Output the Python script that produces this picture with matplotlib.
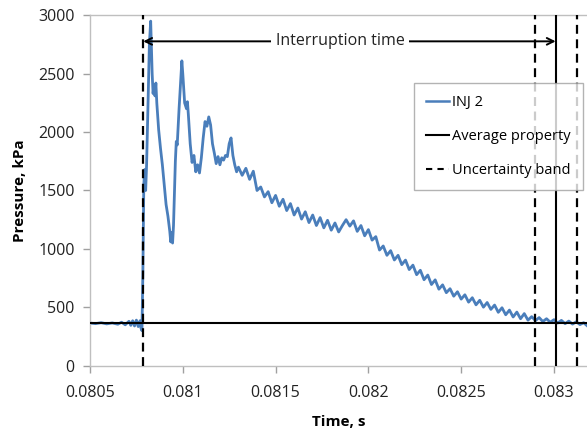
import matplotlib
matplotlib.use('Agg')
import matplotlib.pyplot as plt
from matplotlib.lines import Line2D

# pressure trace INJ 2 (time in s, pressure in kPa)
time_s = [
    0.08050, 0.08053, 0.08056, 0.08059, 0.08062, 0.08065, 0.08067, 0.08069,
    0.08071, 0.08072, 0.08073, 0.08074, 0.08075, 0.08076, 0.08077, 0.080775,
    0.08078, 0.080785, 0.08079, 0.080795, 0.08080, 0.080805, 0.08081, 0.080815,
    0.08082, 0.080827, 0.08083, 0.080835, 0.08084, 0.080845, 0.08085, 0.080855,
    0.08086, 0.08087, 0.08088, 0.08089, 0.08090, 0.08091, 0.08092, 0.08093,
    0.080935, 0.08094, 0.080945, 0.08095, 0.08096, 0.080965, 0.08097, 0.08098,
    0.08099, 0.080995, 0.08100, 0.08101, 0.08102, 0.081025, 0.08103, 0.08104,
    0.08105, 0.08106, 0.08107, 0.08108, 0.08109, 0.08110, 0.08111, 0.08112,
    0.08113, 0.08114, 0.08115, 0.08116, 0.08117, 0.08118, 0.08119, 0.08120,
    0.08121, 0.08122, 0.08123, 0.08124, 0.08125, 0.08126, 0.08127, 0.08128,
    0.08129, 0.08130,
    0.08132, 0.08134, 0.08136, 0.08138, 0.08140, 0.08142, 0.08144, 0.08146,
    0.08148, 0.08150, 0.08152, 0.08154, 0.08156, 0.08158, 0.08160, 0.08162,
    0.08164, 0.08166, 0.08168, 0.08170, 0.08172, 0.08174, 0.08176, 0.08178,
    0.08180, 0.08182, 0.08184, 0.08186, 0.08188, 0.08190, 0.08192, 0.08194,
    0.08196, 0.08198, 0.08200, 0.08202, 0.08204, 0.08206, 0.08208, 0.08210,
    0.08212, 0.08214, 0.08216, 0.08218, 0.08220, 0.08222, 0.08224, 0.08226,
    0.08228, 0.08230, 0.08232, 0.08234, 0.08236, 0.08238, 0.08240, 0.08242,
    0.08244, 0.08246, 0.08248, 0.08250, 0.08252, 0.08254, 0.08256, 0.08258,
    0.08260, 0.08262, 0.08264, 0.08266, 0.08268, 0.08270, 0.08272, 0.08274,
    0.08276, 0.08278, 0.08280, 0.08282, 0.08284, 0.08286, 0.08288, 0.08290,
    0.08292, 0.08294, 0.08296, 0.08298, 0.08300, 0.08302, 0.08304, 0.08306,
    0.08308, 0.08310, 0.08312, 0.08314, 0.08316, 0.08318,
]
pressure_kpa = [
    365, 360, 368, 358, 366, 355, 372, 350,
    380, 345, 385, 340, 390, 335, 385, 320,
    300, 800, 1550, 1680, 1500, 1720, 2050, 2400,
    2750, 2950, 2780, 2500, 2330, 2400, 2310, 2420,
    2250, 2020, 1860, 1720, 1550, 1380, 1280, 1150,
    1060, 1140, 1050, 1200, 1750, 1920, 1890, 2200,
    2480, 2610, 2500, 2250, 2200, 2260, 2150, 1900,
    1740, 1800, 1660, 1720, 1650, 1780, 1950, 2090,
    2050, 2130, 2060, 1900, 1820, 1730, 1790, 1720,
    1780, 1760, 1800, 1790, 1900, 1950, 1800, 1720,
    1660, 1700,
    1630, 1690, 1595, 1665, 1500, 1530, 1445, 1490,
    1395, 1458, 1365, 1425, 1328, 1388, 1290, 1350,
    1255, 1318, 1225, 1290, 1200, 1268, 1180, 1245,
    1160, 1222, 1145, 1200, 1250, 1195, 1240, 1150,
    1200, 1112, 1165, 1075, 1105, 990, 1025, 945,
    985, 905, 945, 865, 904, 823, 861, 779,
    817, 736, 776, 695, 735, 655, 692, 625,
    659, 595, 633, 570, 607, 544, 582, 521,
    560, 501, 541, 482, 519, 457, 496, 436,
    476, 417, 459, 402, 446, 390, 420, 386,
    412, 378, 402, 372, 394, 365, 388, 360,
    382, 356, 376, 352, 368, 340,
]

# reference lines
interruption_start = 0.080787
average_end = 0.083009
band_low = 0.082898
band_high = 0.083122
average_pressure = 363
arrow_level = 2777

x_ticks = [0.0805, 0.081, 0.0815, 0.082, 0.0825, 0.083]
x_tick_labels = ['0.0805', '0.081', '0.0815', '0.082', '0.0825', '0.083']
y_ticks = [0, 500, 1000, 1500, 2000, 2500, 3000]

plt.rcParams['font.family'] = ['Open Sans', 'DejaVu Sans']

fig = plt.figure(figsize=(5.87, 4.32), dpi=100)
ax = fig.add_axes([0.1533, 0.1535, 0.8467, 0.8111])

blue = '#4a7ebb'
ax.plot(time_s, pressure_kpa, color=blue, lw=2.0, zorder=2)

dash = (4, 2.5)
ax.axhline(average_pressure, color='black', lw=1.5, zorder=3)
ax.axvline(interruption_start, color='black', lw=1.6, dashes=dash, zorder=3)
ax.axvline(band_low, color='black', lw=1.6, dashes=dash, zorder=3)
ax.axvline(band_high, color='black', lw=1.6, dashes=dash, zorder=3)
ax.axvline(average_end, color='black', lw=1.5, zorder=3)

ax.annotate('', xy=(interruption_start, arrow_level),
            xytext=(average_end, arrow_level),
            arrowprops=dict(arrowstyle='<->', color='black', lw=1.4,
                            shrinkA=0, shrinkB=0, mutation_scale=12),
            zorder=4)
mid = (interruption_start + average_end) / 2 - 0.00005
ax.text(mid, arrow_level, 'Interruption time', ha='center', va='center',
        fontsize=11.5, color='#222222', zorder=5,
        bbox=dict(facecolor='white', edgecolor='none', pad=3.5))

ax.set_xlim(0.0805, 0.083178)
ax.set_ylim(0, 3000)
ax.set_xticks(x_ticks)
ax.set_xticklabels(x_tick_labels)
ax.set_yticks(y_ticks)
ax.tick_params(direction='out', length=5, width=1, color='#a0a0a0',
               labelsize=11.5, labelcolor='#222222')
ax.tick_params(axis='x', pad=9)
ax.tick_params(axis='y', pad=6)

for side in ['left', 'bottom', 'top']:
    ax.spines[side].set_color('#bfbfbf')
    ax.spines[side].set_linewidth(1)
ax.spines['right'].set_visible(False)

ax.set_xlabel('Time, s', fontsize=11, fontweight='bold', labelpad=10)
ax.set_ylabel('Pressure, kPa', fontsize=11, fontweight='bold', labelpad=8)

handles = [
    Line2D([], [], color=blue, lw=1.8),
    Line2D([], [], color='black', lw=1.5),
    Line2D([], [], color='black', lw=1.5, dashes=(3, 2.5)),
]
labels = ['INJ 2', 'Average property', 'Uncertainty band']
leg = ax.legend(handles, labels, loc='upper left',
                bbox_to_anchor=(0.6513, 0.8074), fontsize=10.5,
                frameon=True, fancybox=False, handlelength=1.6,
                handletextpad=0.15, labelspacing=1.3, borderpad=0.85,
                borderaxespad=0)
leg.get_frame().set_edgecolor('#a0a0a0')
leg.get_frame().set_linewidth(1)
leg.set_zorder(6)

fig.savefig('out.png', dpi=100)
